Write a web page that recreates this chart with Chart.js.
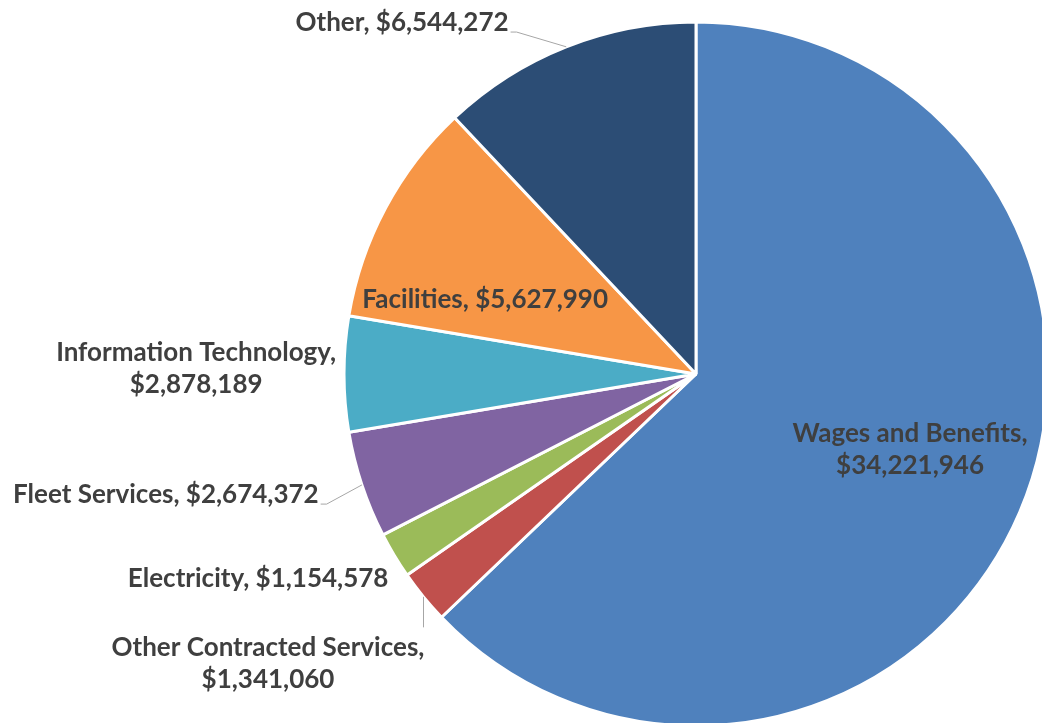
<!DOCTYPE html>
<html>
<head>
<meta charset="utf-8">
<script src="https://cdn.jsdelivr.net/npm/chart.js@4/dist/chart.umd.min.js"></script>
<style>
  html, body { margin: 0; padding: 0; background: #ffffff; overflow: hidden; }
  #wrap { position: absolute; left: 0; top: 0; width: 1060px; height: 760px; }
</style>
</head>
<body>
<div id="wrap"><canvas id="chart" width="1060" height="760"></canvas></div>
<script>
// Expense categories, clockwise from 12 o'clock
const categories = [
  'Wages and Benefits',
  'Other Contracted Services',
  'Electricity',
  'Fleet Services',
  'Information Technology',
  'Facilities',
  'Other'
];
const amounts = [34221946, 1341060, 1154578, 2674372, 2878189, 5627990, 6544272];
const sliceColors = ['#4F81BD', '#C0504D', '#9BBB59', '#8064A2', '#4BACC6', '#F79646', '#2C4D75'];

const money = v => '$' + v.toLocaleString('en-US');

// Label placement, as fractions of the pie radius from its centre.
// leader: 'none' | 'right' (line leaves the label's right end) | 'above' (line drops from above the label)
const labelLayout = [
  { dx: 0.608,  dy: 0.214,  lines: 2, leader: 'none' },
  { dx: -1.216, dy: 0.822,  lines: 2, leader: 'above' },
  { dx: -1.244, dy: 0.580,  lines: 1, leader: 'none' },
  { dx: -1.506, dy: 0.344,  lines: 1, leader: 'right' },
  { dx: -1.420, dy: -0.014, lines: 2, leader: 'none' },
  { dx: -0.599, dy: -0.210, lines: 1, leader: 'none' },
  { dx: -0.835, dy: -0.997, lines: 1, leader: 'right' }
];

const FONT = 'bold 26px Lato, "Open Sans", sans-serif';
const LINE_H = 32;

const dataLabels = {
  id: 'dataLabels',
  afterDatasetsDraw(chart) {
    const ctx = chart.ctx;
    const meta = chart.getDatasetMeta(0);
    ctx.save();
    ctx.font = FONT;
    ctx.textAlign = 'center';
    ctx.textBaseline = 'middle';
    meta.data.forEach((arc, i) => {
      const p = arc.getProps(['x', 'y', 'startAngle', 'endAngle', 'outerRadius'], true);
      const r = p.outerRadius;
      const lay = labelLayout[i];
      const cx = p.x + lay.dx * r;
      const cy = p.y + lay.dy * r;
      const name = categories[i];
      const val = money(amounts[i]);
      const rows = lay.lines === 2 ? [name + ',', val] : [name + ', ' + val];
      const top = cy - (rows.length * LINE_H) / 2;

      // leader line from the slice edge to the label
      const mid = (p.startAngle + p.endAngle) / 2;
      const ex = p.x + Math.cos(mid) * r;
      const ey = p.y + Math.sin(mid) * r;
      ctx.strokeStyle = '#a6a6a6';
      ctx.lineWidth = 1;
      if (lay.leader === 'right') {
        const w = ctx.measureText(rows[0]).width;
        const lx = cx + w / 2 + 2;
        const ly = cy + 9;
        ctx.beginPath();
        ctx.moveTo(lx, ly);
        ctx.lineTo(lx + 6, ly);
        ctx.lineTo(ex, ey);
        ctx.stroke();
      } else if (lay.leader === 'above') {
        ctx.beginPath();
        ctx.moveTo(ex, ey);
        ctx.lineTo(ex, top - 4);
        ctx.stroke();
      }

      ctx.fillStyle = '#3f3f3f';
      rows.forEach((t, k) => ctx.fillText(t, cx, top + LINE_H * (k + 0.5)));
    });
    ctx.restore();
  }
};

new Chart(document.getElementById('chart'), {
  type: 'pie',
  data: {
    labels: categories,
    datasets: [{
      data: amounts,
      backgroundColor: sliceColors,
      borderColor: '#ffffff',
      borderWidth: 3
    }]
  },
  options: {
    responsive: false,
    animation: false,
    radius: 352,
    layout: { padding: { left: 344, right: 12, top: 22, bottom: 34 } },
    plugins: {
      legend: { display: false },
      tooltip: { enabled: false }
    }
  },
  plugins: [dataLabels]
});
</script>
</body>
</html>
